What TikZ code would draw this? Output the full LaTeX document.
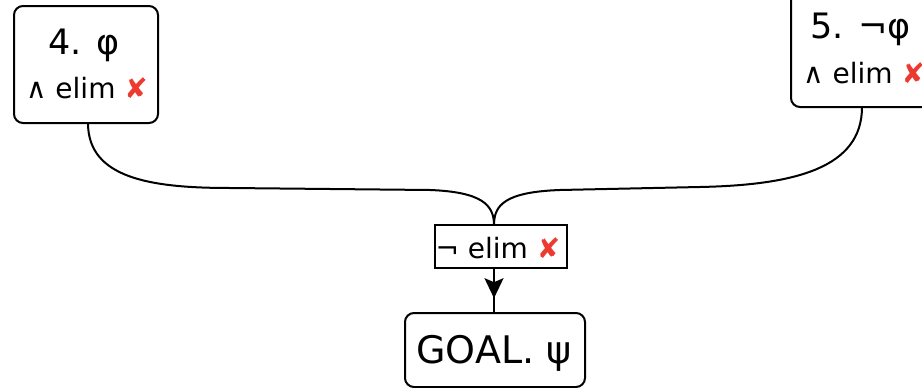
\documentclass[tikz,border=0pt]{standalone}
\usepackage{fontspec}
\setmainfont{DejaVu Sans}
\usetikzlibrary{arrows.meta,decorations.markings}
\definecolor{xred}{RGB}{236,58,48}
\tikzset{
  rbox/.style={draw, line width=2pt, rounded corners=9pt, minimum width=#1, inner sep=0pt},
  sbox/.style={draw, line width=1.8pt, inner sep=0pt},
  big/.style={font=\fontsize{35}{40}\selectfont, anchor=base, inner sep=0pt},
  small/.style={font=\fontsize{28}{32}\selectfont, anchor=base, inner sep=0pt},
  conn/.style={line width=2pt},
}
\newcommand{\xmark}{\textcolor{xred}{✘}}
\begin{document}
\begin{tikzpicture}[x=1pt,y=-1pt]
\useasboundingbox (0,0) rectangle (922,388);
% boxes
\node[rbox=144pt, minimum height=117pt] (n4) at (86,64.5) {};
\node[rbox=166pt, minimum height=118pt] (n5) at (874,48) {};
\node[sbox, minimum width=132pt, minimum height=43pt] (ne) at (501,246.5) {};
\node[rbox=180pt, minimum height=74pt] (goal) at (495,350) {};
% texts
\node[big] (t4a) at (84,54) {4. φ};
\node[small] (t4b) at (87,98) {∧ elim \xmark};
\node[big, anchor=base west] (t5a) at (810,38) {5. ¬φ};
\node[small, anchor=base west] (t5b) at (803,83) {∧ elim \xmark};
\node[small] (teb) at (498,258) {¬ elim \xmark};
\node[big, font=\fontsize{38}{42}\selectfont] (tg) at (494,363) {GOAL. ψ};
% junction
\coordinate (j) at (494,225);
\coordinate (a4) at (88,123);
\coordinate (a5) at (862,107);
% connectors
\draw[conn] (a4) .. controls (88,178) and (150,188) .. (230,188)
  -- (430,190) .. controls (482,192) and (494,205) .. (j);
\draw[conn] (a5) .. controls (862,168) and (795,185) .. (700,187)
  -- (560,190) .. controls (505,192) and (494,205) .. (j);
\draw[conn, decoration={markings, mark=at position 0.68 with {\arrow{Stealth[length=20pt,width=19pt,inset=4pt]}}}, postaction={decorate}]
  (j |- ne.south) -- (j |- goal.north);
\end{tikzpicture}
\end{document}
